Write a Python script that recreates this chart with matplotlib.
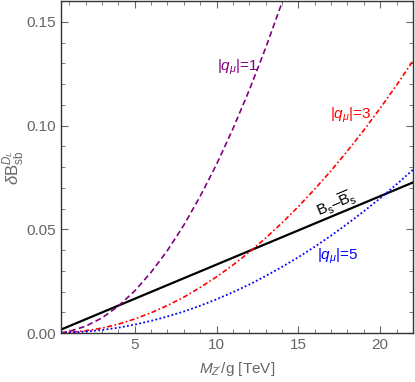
import matplotlib
matplotlib.use("Agg")
import matplotlib.pyplot as plt
from matplotlib.ticker import MultipleLocator

plt.rcParams['font.family'] = ['Liberation Sans', 'DejaVu Sans']
plt.rcParams['mathtext.fontset'] = 'custom'
plt.rcParams['mathtext.rm'] = 'Liberation Sans'
plt.rcParams['mathtext.it'] = 'Liberation Sans:italic'
plt.rcParams['mathtext.bf'] = 'Liberation Sans:bold'

# values
mz = [0.5, 1, 2, 3, 4, 5, 6, 7, 8, 9, 10, 11, 12, 13, 14, 15, 16, 17, 18, 19, 20, 21, 22]
q1 = [0.0002, 0.0008, 0.0033, 0.0073, 0.0130, 0.0203, 0.0293, 0.0398, 0.0520, 0.0659,
      0.0813, 0.0984, 0.1171, 0.1374, 0.1593, 0.1830, 0.2080, 0.2350, 0.2630, 0.2930,
      0.3250, 0.3590, 0.3930]
q3 = [0.00007, 0.0003, 0.0011, 0.0024, 0.0043, 0.0068, 0.0098, 0.0133, 0.0173, 0.0220,
      0.0271, 0.0328, 0.0390, 0.0458, 0.0531, 0.0610, 0.0694, 0.0783, 0.0878, 0.0978,
      0.1084, 0.1195, 0.1312]
q5 = [0.00004, 0.0002, 0.0007, 0.0015, 0.0026, 0.0041, 0.0059, 0.0080, 0.0104, 0.0132,
      0.0163, 0.0197, 0.0234, 0.0275, 0.0319, 0.0366, 0.0416, 0.0470, 0.0527, 0.0587,
      0.0650, 0.0717, 0.0787]
mix_x = [0.5, 22]
mix_y = [0.0017, 0.0726]

gray = '#666666'

fig = plt.figure(figsize=(4.15, 3.82), dpi=100)
ax = fig.add_axes([0.147, 0.128, 0.848, 0.869])

ax.plot(mix_x, mix_y, color='black', lw=1.6)
ax.plot(mz, q1, color='#800080', lw=1.2, ls=(0, (3.5, 2)))
ax.plot(mz, q3, color='#ff0000', lw=1.2, ls=(0, (3, 1.5, 1, 1.5)))
ax.plot(mz, q5, color='#0000ff', lw=1.3, ls=(0, (1, 1.3)))

ax.text(11.3, 0.128, r'$|q_\mu|$=1', color='#800080', fontsize=11, ha='center', va='center')
ax.text(18.2, 0.105, r'$|q_\mu|$=3', color='#ff0000', fontsize=11, ha='center', va='center')
ax.text(17.4, 0.037, r'$|q_\mu|$=5', color='#0000ff', fontsize=11, ha='center', va='center')
# B_s - Bbar_s label along the mixing line
ax.text(17.3, 0.0625, r'$\mathrm{B_s}$–$\overline{\mathrm{B}}$$\mathrm{_s}$', color='black',
        fontsize=11, ha='center', va='center', rotation=23, rotation_mode='anchor')

ax.set_xlim(0.5, 22)
ax.set_ylim(0, 0.16)
ax.xaxis.set_major_locator(MultipleLocator(5))
ax.xaxis.set_minor_locator(MultipleLocator(1))
ax.yaxis.set_major_locator(MultipleLocator(0.05))
ax.yaxis.set_minor_locator(MultipleLocator(0.01))
ax.yaxis.set_major_formatter(plt.FuncFormatter(lambda v, p: f'{v:.2f}'))

ax.tick_params(which='both', direction='in', top=True, right=True, colors=gray,
               labelsize=11, labelcolor=gray)
ax.tick_params(which='major', length=5, width=0.8)
ax.tick_params(which='minor', length=3, width=0.6)
for s in ax.spines.values():
    s.set_color('#333333')
    s.set_linewidth(1.0)

ax.set_xlabel(r"$M_{Z'}$/g [TeV]", color=gray, fontsize=11, labelpad=6)
ax.set_ylabel(r'$\delta\mathrm{B}_\mathrm{sb}^{D_L}$', color=gray, fontsize=12)
ax.yaxis.set_label_coords(-0.10, 0.5)

fig.savefig('out.png', dpi=100)
